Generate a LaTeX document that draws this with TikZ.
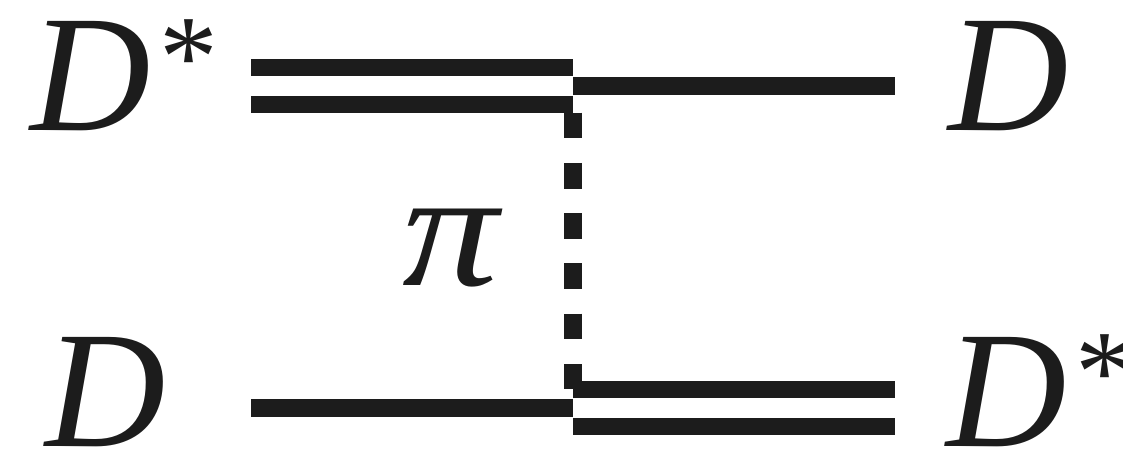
\documentclass[tikz,border=0pt]{standalone}
\usepackage{fontspec}
\setmainfont{Liberation Serif}
\usetikzlibrary{positioning}
\definecolor{ink}{HTML}{1C1C1C}
\tikzset{
  meson/.style={font=\fontsize{125}{125}\selectfont\itshape, text=ink, inner sep=0pt},
  prop/.style={line width=13pt, color=ink},
  dprop/.style={line width=13pt, double=white, double distance=14.5pt, color=ink},
  pion/.style={line width=13.5pt, color=ink, dash pattern=on 19.2pt off 18.5pt},
}
\newcommand{\exstar}{\hspace{7pt}\raisebox{26pt}{\fontsize{88}{88}\selectfont\upshape*}}
\begin{document}
\begin{tikzpicture}[x=0.75pt,y=-0.75pt]
  \useasboundingbox (0,0) rectangle (1123,452);
  % vertices and free ends
  \coordinate (vt) at (573,86);
  \coordinate (vb) at (573,408);
  \coordinate (inA) at (251,86);
  \coordinate (outA) at (895,86);
  \coordinate (inB) at (251,408);
  \coordinate (outB) at (895,408);
  % labels
  \node[meson,anchor=base west] (dsA) at (30,131) {D\exstar};
  \node[meson,anchor=base west] (dB) at (45,446) {D};
  \node[meson,anchor=base west] (dA) at (948,131) {D};
  \node[meson,anchor=base west] (dsB) at (946,446) {D\exstar};
  \node[meson,anchor=base west,xscale=1.15] (pi) at (402,285) {π};
  % propagators
  \draw[dprop] (inA) -- (vt);
  \draw[prop] (vt) -- (outA);
  \draw[prop] (inB) -- (vb);
  \draw[dprop] (vb) -- (outB);
  \draw[pion] ([yshift=-20pt]vt) -- ([yshift=14.25pt]vb);
\end{tikzpicture}
\end{document}
